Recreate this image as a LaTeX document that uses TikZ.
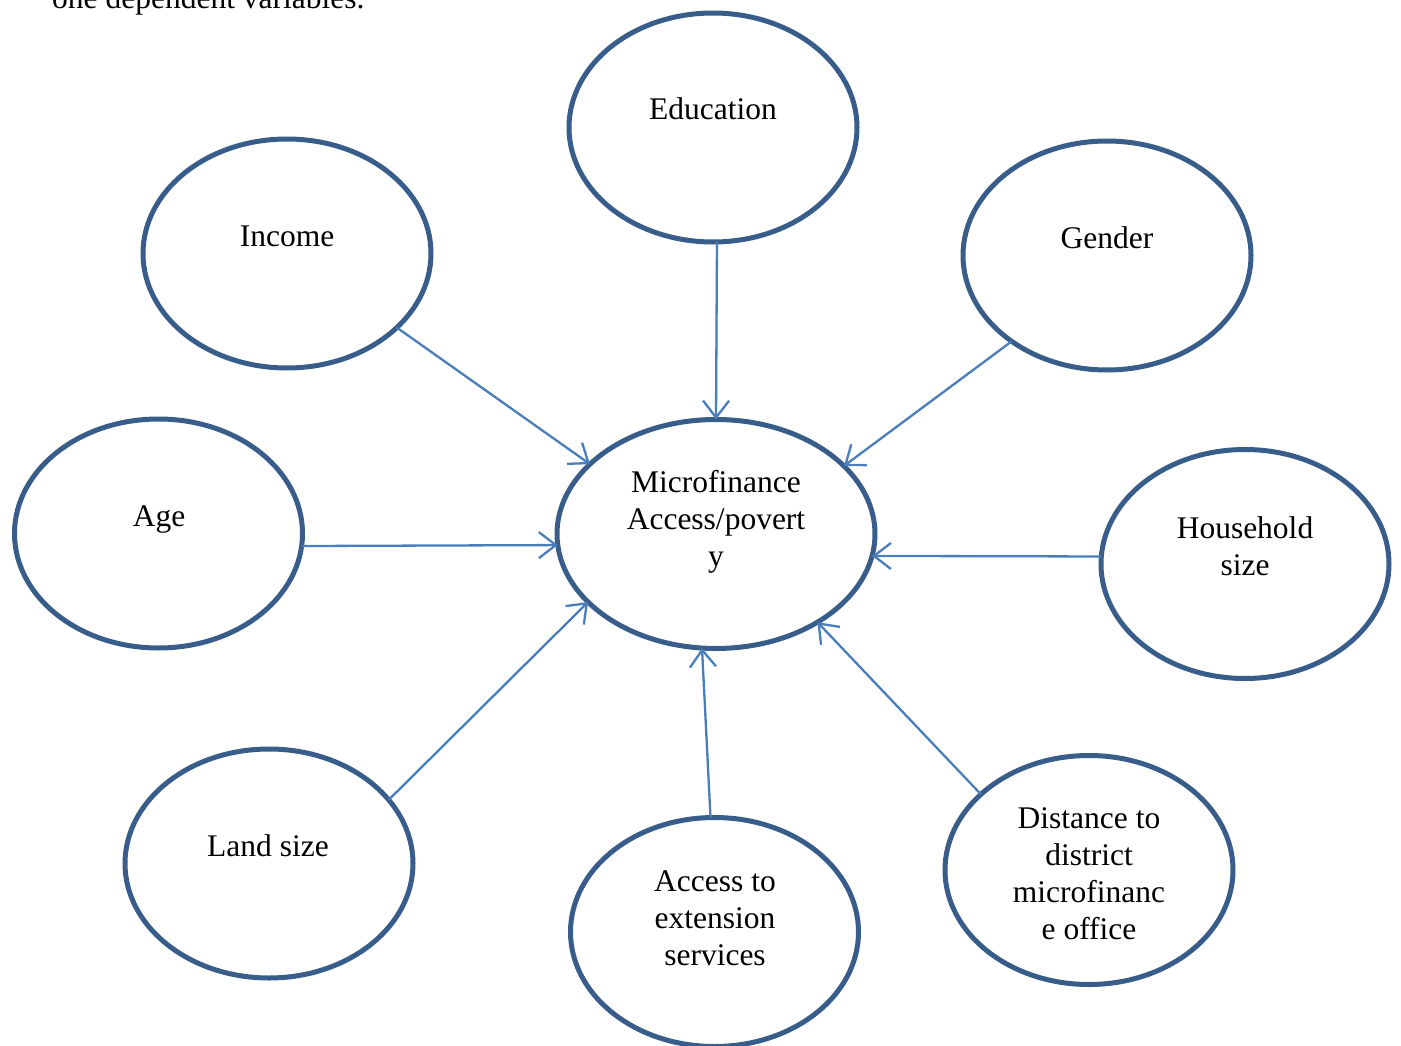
\documentclass[tikz,border=0pt]{standalone}
\usepackage{fontspec}
\setmainfont{Liberation Serif}
\usetikzlibrary{arrows.meta,shapes.geometric}
\definecolor{ovalline}{HTML}{385D8A}
\definecolor{linkline}{HTML}{4A7EBB}
\begin{document}
\begin{tikzpicture}[x=1pt,y=-1pt,
  oval/.style={ellipse,draw=ovalline,line width=5pt,fill=white,
    minimum width=288pt,minimum height=229pt,inner sep=0pt,outer sep=0pt},
  bigoval/.style={oval,minimum width=318pt,minimum height=229pt},
  label text/.style={font=\fontsize{31.5}{37}\selectfont,align=center,
    anchor=base,inner sep=0pt},
  link/.style={draw=linkline,line width=2.3pt,
    -{Straight Barb[length=17pt,width=26pt,line width=2.3pt]}}]
\useasboundingbox (0,0) rectangle (1401,1046);
\clip (0,0) rectangle (1401,1046);

% running text above the figure
\node[font=\fontsize{31.5}{37}\selectfont,anchor=base west,inner sep=0pt]
  (caption) at (52,9) {one dependent variables.};

% ovals
\node[oval]    (edu)  at (713,127.5) {};
\node[oval]    (inc)  at (287,253.5) {};
\node[oval]    (gen)  at (1107,255.5) {};
\node[oval]    (age)  at (158.5,533.5) {};
\node[bigoval] (mic)  at (716,534) {};
\node[oval]    (hh)   at (1245,564) {};
\node[oval]    (land) at (269,863.5) {};
\node[oval]    (acc)  at (714.5,932) {};
\node[oval]    (dist) at (1089,870) {};

% oval texts (placed by the baseline of their last line)
\node[label text] (edu-t)  at (713,120)   {Education};
\node[label text] (inc-t)  at (287,246.5) {Income};
\node[label text] (gen-t)  at (1107,248.5) {Gender};
\node[label text] (age-t)  at (159,526.5) {Age};
\node[label text] (mic-t)  at (716,566)   {Microfinance\\Access/povert\\y};
\node[label text] (hh-t)   at (1245,575.5) {Household\\size};
\node[label text] (land-t) at (268,856.5) {Land size};
\node[label text] (acc-t)  at (715,965.5) {Access to\\extension\\services};
\node[label text] (dist-t) at (1089,939)  {Distance to\\district\\microfinanc\\e office};

% connectors into the central oval
\draw[link] (inc.-34.9)  -- (mic.151.2);
\draw[link] (edu.-88.5)  -- (mic.90.5);
\draw[link] (gen.222.3)  -- (mic.28.4);
\draw[link] (age.-5.3)   -- (mic.184.6);
\draw[link] (hh.177.3)   -- (mic.-8.0);
\draw[link] (land.28.3)  -- (mic.208.8);
\draw[link] (acc.92.7)   -- (mic.263.7);
\draw[link] (dist.145.5) -- (mic.-41.3);
\end{tikzpicture}
\end{document}
